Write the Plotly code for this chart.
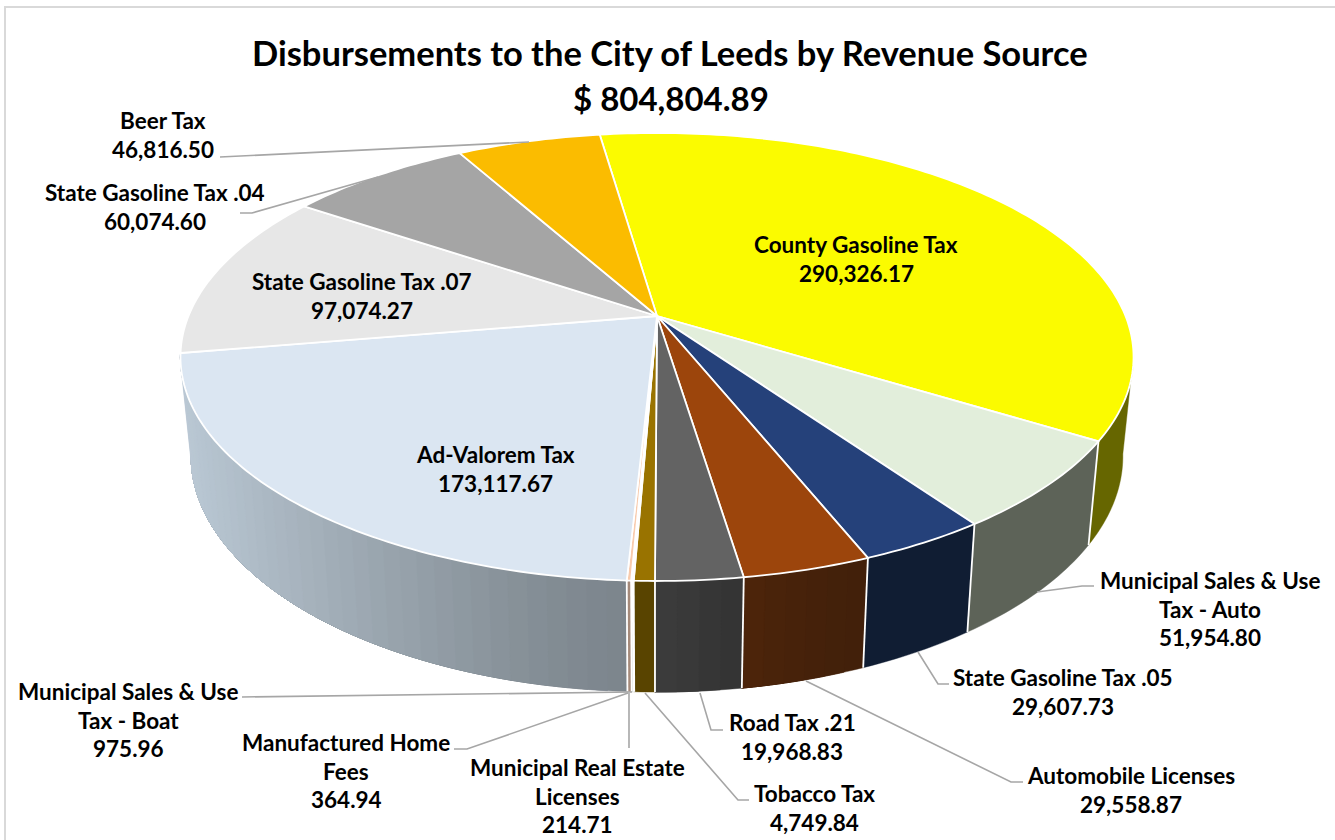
import numpy as np
import plotly.graph_objects as go

# ---- data ----
categories = ["County Gasoline Tax", "Municipal Sales & Use<br>Tax - Auto", "State Gasoline Tax .05",
              "Automobile Licenses", "Road Tax .21", "Tobacco Tax", "Municipal Real Estate<br>Licenses",
              "Manufactured Home<br>Fees", "Municipal Sales & Use<br>Tax - Boat", "Ad-Valorem Tax",
              "State Gasoline Tax .07", "State Gasoline Tax .04", "Beer Tax"]
values = [290326.17, 51954.80, 29607.73, 29558.87, 19968.83, 4749.84, 214.71,
          364.94, 975.96, 173117.67, 97074.27, 60074.60, 46816.50]
value_labels = ["290,326.17", "51,954.80", "29,607.73", "29,558.87", "19,968.83", "4,749.84", "214.71",
                "364.94", "975.96", "173,117.67", "97,074.27", "60,074.60", "46,816.50"]
top_colors = ["#FBFB00", "#E2EEDB", "#25417A", "#9C450C", "#636363", "#997300", "#BDD7EE",
              "#C5E0B4", "#F8CBAD", "#DBE6F2", "#E7E7E7", "#A5A5A5", "#FBBC00"]
wall_start = ["#666600", "#5D6358", "#101D33", "#41200A", "#333333", "#594400", "#8A9A9A",
              "#8A9A8A", "#A58A7A", "#7C858C", "#777777", "#555555", "#664D00"]
wall_end = ["#666600", "#5D6358", "#101D33", "#4D240A", "#3D3D3D", "#594400", "#8A9A9A",
            "#8A9A8A", "#A58A7A", "#BAC8D4", "#777777", "#555555", "#664D00"]
title_lines = ["Disbursements to the City of Leeds by Revenue Source", "$ 804,804.89"]

# ---- layout of the labels: centre x, centre y, one per category ----
label_pos = [(856, 259), (1210, 609), (1063, 692), (1131, 790), (792, 737), (814, 808), (577, 796),
             (346, 771), (128, 720), (495, 469), (362, 296), (155, 207), (163, 135)]
leaders = [
    [(1094, 586), (1082, 586), (1037, 592)],
    [(949, 684), (938, 684), (918, 652)],
    [(1023, 782), (1011, 782), (806, 681)],
    [(723, 730), (711, 730), (700, 693)],
    [(749, 800), (738, 800), (645, 693)],
    [(629, 748), (629, 693)],
    [(454, 749), (467, 749), (628, 693)],
    [(242, 697), (632, 692)],
    [(240, 213), (252, 213), (378, 177)],
    [(220, 157), (529, 142)],
]
LINE_STEP = 28.3

# ---- perspective projection of the pie disc ----
CX, CY_TOP, A_TOP, B_TOP = 657, 316, 468.5, 216.5
CY_BOT, A_BOT, B_BOT = 413, 458, 228
K = 0.183
START = -8.3
WALL_FROM = 100


def project(deg, cy, a, b):
    t = np.radians(deg)
    x, y = np.sin(t), np.cos(t)
    w = 1 + K * y
    return CX + a * x / w, cy - b * y / w


def top(deg):
    return project(deg, CY_TOP, A_TOP, B_TOP)


def bot(deg):
    return project(deg, CY_BOT, A_BOT, B_BOT)


def mix(c1, c2, f):
    p = [int(c1[i:i + 2], 16) for i in (1, 3, 5)]
    q = [int(c2[i:i + 2], 16) for i in (1, 3, 5)]
    return "rgb(%d,%d,%d)" % tuple(round(u + (v - u) * f) for u, v in zip(p, q))


total = sum(values)
edges = START + np.concatenate([[0], np.cumsum(values)]) / total * 360
WALL_TO = edges[categories.index("Ad-Valorem Tax") + 1]   # the wall turns out of view here

fig = go.Figure()


def poly(xs, ys, fill, line, width):
    fig.add_trace(go.Scatter(x=list(xs), y=list(ys), mode="lines", fill="toself", fillcolor=fill,
                             line=dict(color=line, width=width, simplify=False),
                             hoverinfo="skip", showlegend=False))


def stroke(xs, ys, color, width):
    fig.add_trace(go.Scatter(x=list(xs), y=list(ys), mode="lines",
                             line=dict(color=color, width=width, simplify=False),
                             hoverinfo="skip", showlegend=False))


# side wall: each piece is painted from its current cut to the slice end,
# so the next piece overlays it and no seam shows through
for i in range(len(values)):
    a0, a1 = max(edges[i], WALL_FROM), min(edges[i + 1], WALL_TO)
    if a1 <= a0:
        continue
    gradient = wall_start[i] != wall_end[i]
    n = max(1, int((a1 - a0) / 2.0)) if gradient else 1
    cuts = np.linspace(a0, a1, n + 1)
    x0, x1 = bot(a0)[0], bot(a1)[0]
    for j in range(n):
        seg = np.linspace(cuts[j], a1, max(2, int((a1 - cuts[j]) / 1.0) + 2))
        tx, ty = top(seg)
        bx, by = bot(seg)
        mid = 0.5 * (cuts[j] + cuts[j + 1])
        f = (x0 - bot(mid)[0]) / (x0 - x1) if gradient else 0
        c = mix(wall_start[i], wall_end[i], f ** 1.25)
        poly(np.r_[tx, bx[::-1], tx[0]], np.r_[ty, by[::-1], ty[0]], c, c, 0.4)

# white seams between wall pieces (none at the silhouette end)
for e in edges:
    if WALL_FROM <= e < WALL_TO - 1:
        tx, ty = top(e)
        bx, by = bot(e)
        stroke([tx, bx], [ty, by], "white", 1.8)

# top face
for i in range(len(values)):
    seg = np.linspace(edges[i], edges[i + 1], max(2, int(values[i] / total * 360) + 2))
    px, py = top(seg)
    poly(np.r_[CX, px, CX], np.r_[CY_TOP, py, CY_TOP], top_colors[i], "white", 1.8)

# leader lines
for pts in leaders:
    stroke([p[0] for p in pts], [p[1] for p in pts], "#A6A6A6", 1.6)

FONT = "Lato"
anns = []
for name, val, (lx, ly) in zip(categories, value_labels, label_pos):
    rows = name.split("<br>") + [val]
    for r, row in enumerate(rows):
        anns.append(dict(x=lx, y=ly + (r - (len(rows) - 1) / 2) * LINE_STEP, xref="x", yref="y",
                         showarrow=False, align="center", text="<b>%s</b>" % row,
                         font=dict(family=FONT, size=22.5, color="black")))
anns.append(dict(x=670, y=52, xref="x", yref="y", showarrow=False,
                 text="<b>%s</b>" % title_lines[0], font=dict(family=FONT, size=34.5, color="black")))
anns.append(dict(x=671, y=98, xref="x", yref="y", showarrow=False,
                 text="<b>%s</b>" % title_lines[1], font=dict(family=FONT, size=33, color="black")))

fig.update_layout(
    width=1335, height=840, margin=dict(l=0, r=0, t=0, b=0, pad=0),
    paper_bgcolor="white", plot_bgcolor="white", showlegend=False,
    xaxis=dict(range=[0, 1335], visible=False, fixedrange=True),
    yaxis=dict(range=[840, 0], visible=False, fixedrange=True),
    annotations=anns,
    shapes=[dict(type="rect", xref="x", yref="y", x0=5, y0=7, x1=1345, y1=850,
                 line=dict(color="#D9D9D9", width=2), fillcolor="rgba(0,0,0,0)", layer="below")],
)

fig.write_html("out.html", config={"displayModeBar": False},
               post_script="document.body.style.margin='0';")
